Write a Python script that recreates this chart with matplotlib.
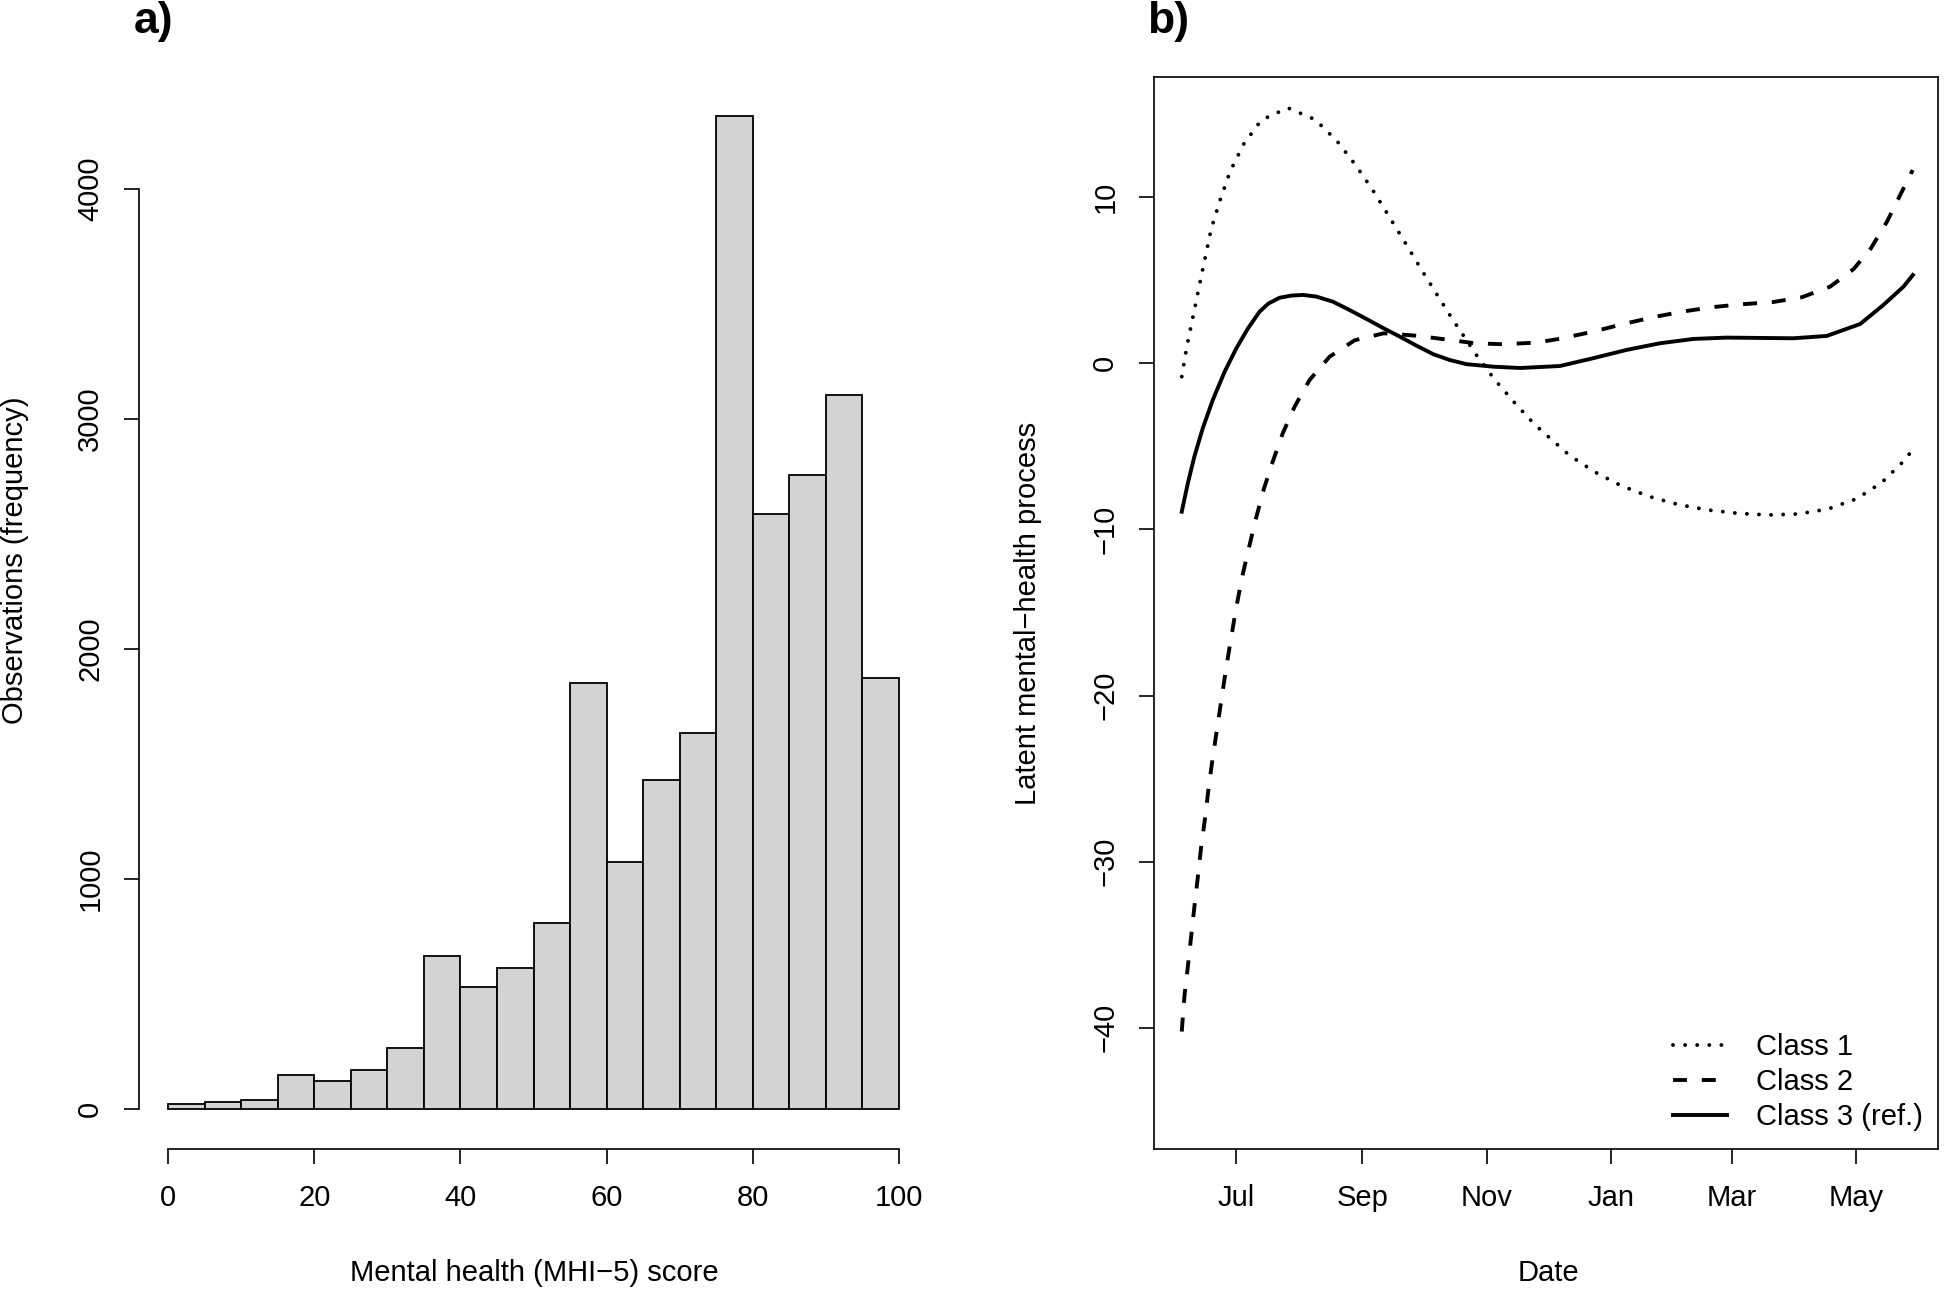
import numpy as np
import pandas as pd
import matplotlib
matplotlib.use("Agg")
import matplotlib.pyplot as plt

plt.rcParams['font.family'] = ['Liberation Sans', 'DejaVu Sans']

# panel a: histogram of MHI-5 scores (bins of width 5)
bin_left = np.arange(0, 100, 5)
counts = [25, 32, 42, 151, 122, 169, 266, 664, 531, 614,
          811, 1852, 1073, 1432, 1637, 4318, 2588, 2757, 3105, 1874]

# panel b: latent mental-health trajectories, days counted from 1 Jul 2020
base_date = pd.Timestamp("2020-07-01")
days1 = [-26.4, -24, -21, -18, -15, -12, -7.6, -2.7, 3.9, 12.6, 25.6, 39, 49.6,
         58.6, 66.9, 74.8, 82.5, 90.2, 97.9, 105.9, 118, 127, 136.6, 146.6,
         163.2, 175.6, 188.7, 202.6, 216.8, 231.4, 246.1, 260.8, 275.5, 290.1,
         304, 316.4, 327.1, 331.6]
class1 = [-0.8, 0.97, 2.75, 4.56, 6.33, 8.09, 9.84, 11.56, 13.2, 14.65, 15.38,
          14.67, 13.39, 11.96, 10.48, 8.91, 7.37, 5.8, 4.28, 2.71, 0.49, -1.0,
          -2.37, -3.7, -5.51, -6.52, -7.36, -8.02, -8.5, -8.83, -9.03, -9.13,
          -9.07, -8.77, -8.16, -7.18, -5.9, -5.2]
days2 = [-26.4, -25.1, -23.4, -21.8, -20.2, -18.5, -16.9, -14.9, -13.3, -11.2,
         -9.0, -6.8, -4.6, -2.2, 0.3, 3.1, 6.5, 9.8, 13.7, 18.2, 23.1, 28.9,
         36.2, 46.0, 58.3, 72.5, 88, 104.9, 117.1, 131.0, 147.4, 158.8, 175.1,
         189.9, 204.6, 218.5, 233.2, 247.9, 262.6, 277.3, 291.2, 302.6, 311,
         319, 325.5, 331.6]
class2 = [-40.23, -38.1, -36.3, -34.5, -32.7, -30.9, -29.1, -27.3, -25.6, -23.7,
          -21.9, -20.1, -18.3, -16.5, -14.7, -12.9, -11.1, -9.4, -7.6, -5.9,
          -4.2, -2.6, -1.0, 0.4, 1.39, 1.81, 1.67, 1.41, 1.21, 1.15, 1.25, 1.48,
          1.91, 2.37, 2.78, 3.11, 3.38, 3.56, 3.68, 3.98, 4.62, 5.67, 6.9, 8.53,
          10.14, 11.64]
days3 = [-26.4, -23.4, -20.2, -16.1, -11.2, -5.4, 0.3, 6.0, 11.7, 16, 21.5,
         27.3, 33, 39.5, 47.7, 55.8, 64.1, 72.2, 80.4, 88.5, 96.8, 104.9,
         113.1, 126.2, 139.3, 158.8, 175.1, 191.5, 207.8, 224.2, 240.5, 256.9,
         273.2, 289.5, 305.9, 317.3, 327.1, 331.7]
class3 = [-8.93, -7.2, -5.6, -3.9, -2.2, -0.5, 0.9, 2.1, 3.11, 3.6, 3.95,
          4.08, 4.12, 4.02, 3.71, 3.21, 2.67, 2.13, 1.61, 1.07, 0.55, 0.2,
          -0.05, -0.2, -0.28, -0.16, 0.31, 0.81, 1.21, 1.47, 1.55, 1.53,
          1.51, 1.65, 2.37, 3.52, 4.62, 5.32]
class_labels = ["Class 1", "Class 2", "Class 3 (ref.)"]

tick_dates = ["2020-07-01", "2020-09-01", "2020-11-01",
              "2021-01-01", "2021-03-01", "2021-05-01"]
tick_labels = ["Jul", "Sep", "Nov", "Jan", "Mar", "May"]


def to_dates(days):
    return base_date + pd.to_timedelta(np.array(days), unit='D')


fs = 21
fig = plt.figure(figsize=(19.44, 12.96), dpi=100)
ax1 = fig.add_axes([139/1944, 1 - 1149/1296, (928-139)/1944, (1149-76)/1296])
ax2 = fig.add_axes([1154/1944, 1 - 1149/1296, (1938-1154)/1944, (1149-77)/1296])

# --- panel a
ax1.bar(bin_left, counts, width=5, align='edge', color='#D3D3D3',
        edgecolor='black', linewidth=1.3)
ax1.set_xlim(-4, 104)
ax1.set_ylim(-172.7, 4490)
for s in ['top', 'right']:
    ax1.spines[s].set_visible(False)
ax1.spines['left'].set_bounds(0, 4000)
ax1.spines['bottom'].set_bounds(0, 100)
ax1.set_xticks([0, 20, 40, 60, 80, 100])
ax1.set_yticks([0, 1000, 2000, 3000, 4000])

# --- panel b
lw = 2.8
ax2.plot(to_dates(days1), class1, color='black', lw=lw, dashes=(0.01, 3.1),
         dash_capstyle='round', label=class_labels[0])
ax2.plot(to_dates(days2), class2, color='black', lw=lw, dashes=(3.6, 3.8),
         label=class_labels[1])
ax2.plot(to_dates(days3), class3, color='black', lw=lw, label=class_labels[2])
ax2.set_xlim(pd.Timestamp("2020-05-22"), pd.Timestamp("2021-06-10"))
ax2.set_ylim(-47.3, 17.24)
ax2.set_xticks(pd.to_datetime(tick_dates))
ax2.set_xticklabels(tick_labels)
ax2.set_yticks([-40, -30, -20, -10, 0, 10])
ax2.legend(loc='lower right', bbox_to_anchor=(1.014, -0.008), frameon=False,
           fontsize=fs, handlelength=1.85, handletextpad=1.0,
           labelspacing=0.25)

for ax in (ax1, ax2):
    for s in ax.spines.values():
        s.set_linewidth(1.2)
    ax.tick_params(axis='both', direction='out', length=11, width=1.2,
                   labelsize=fs, pad=14)
    for lab in ax.get_yticklabels():
        lab.set_rotation(90)
        lab.set_va('center')

fig.text(15/1944, 1 - 560/1296, "Observations (frequency)", rotation=90,
         ha='center', va='center', fontsize=fs)
fig.text(534/1944, 1 - 1273/1296, "Mental health (MHI\u22125) score",
         ha='center', va='center', fontsize=fs)
fig.text(1028/1944, 1 - 613/1296, "Latent mental\u2212health process",
         rotation=90, ha='center', va='center', fontsize=fs)
fig.text(1548/1944, 1 - 1273/1296, "Date", ha='center', va='center', fontsize=fs)
fig.text(134/1944, 1 - 22/1296, "a)", ha='left', va='center',
         fontsize=32, fontweight='bold')
fig.text(1147/1944, 1 - 22/1296, "b)", ha='left', va='center',
         fontsize=32, fontweight='bold')

plt.savefig("out.png", dpi=100)
